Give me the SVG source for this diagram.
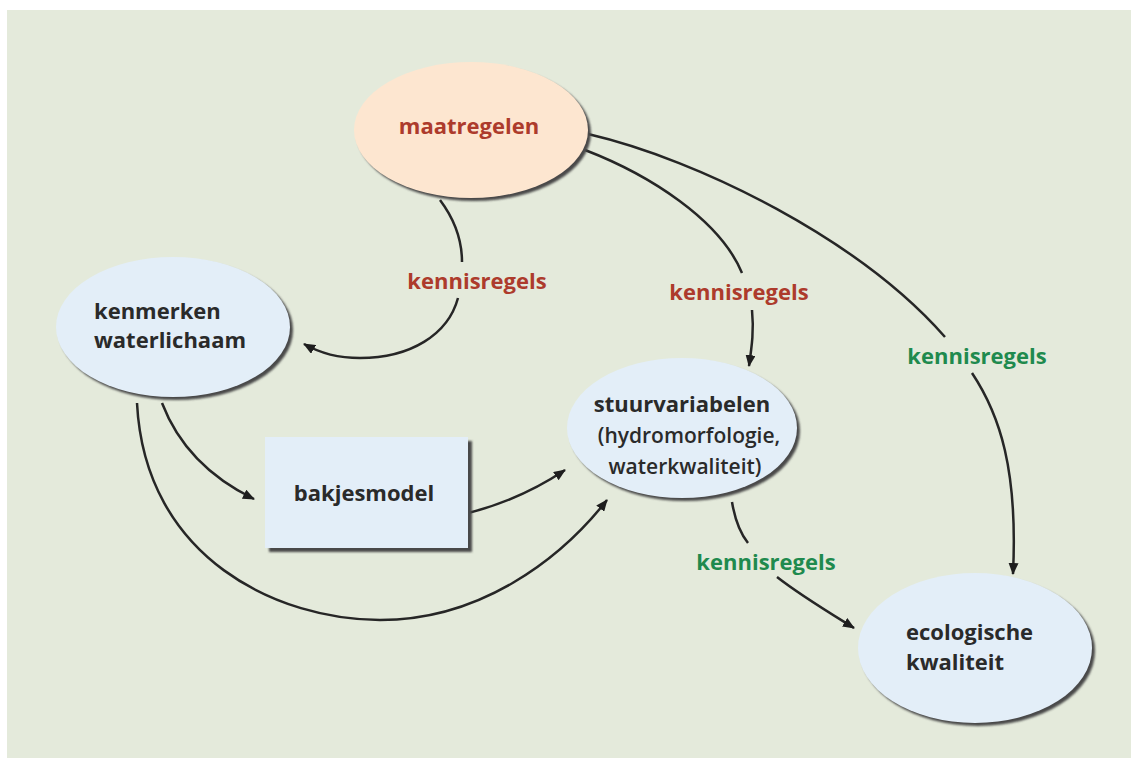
<svg xmlns="http://www.w3.org/2000/svg" width="1131" height="758" viewBox="0 0 1131 758">
<defs>
<marker id="ah" viewBox="0 0 12 10" refX="11" refY="5" markerWidth="12" markerHeight="10" markerUnits="userSpaceOnUse" orient="auto">
<path d="M0,0 L12,5 L0,10 Z" fill="#1e1e1e"/>
</marker>
<filter id="blur" x="-10%" y="-10%" width="120%" height="120%"><feGaussianBlur stdDeviation="0.8"/></filter>
</defs>
<style>
.bg{fill:#e4eadb}
.shadow{fill:#4a4a4a;filter:url(#blur)}
.blue{fill:#e3eef8}
.peach{fill:#fde6d0}
.t{font-family:"Open Sans",Lato,sans-serif;font-weight:bold;font-size:22px}
.dark{fill:#2a2a2a}
.red{fill:#ad3b2c}
.green{fill:#1f8a4e}
.sub{font-weight:600;font-size:21px}
.c{fill:none;stroke:#262626;stroke-width:2.5}
</style>
<rect class="bg" x="7" y="10" width="1124" height="748"/>

<g id="connectors">
<path class="c" d="M440,200 C455,220 462,240 462,262"/>
<path class="c" d="M458,298 C448,335 410,358 360,358 C335,358 318,352 304,344" marker-end="url(#ah)"/>
<path class="c" d="M585,150 C650,175 720,220 742,273"/>
<path class="c" d="M752,310 C754,330 752,345 749,366" marker-end="url(#ah)"/>
<path class="c" d="M588,134 C700,160 860,240 945,337"/>
<path class="c" d="M972,373 C1000,415 1018,470 1013,574" marker-end="url(#ah)"/>
<path class="c" d="M162,403 C180,450 215,480 254,499" marker-end="url(#ah)"/>
<path class="c" d="M137,403 C145,560 280,620 380,620 C480,620 560,560 607,500" marker-end="url(#ah)"/>
<path class="c" d="M468,513 C500,505 535,490 565,470" marker-end="url(#ah)"/>
<path class="c" d="M732,502 C735,520 740,533 748,543"/>
<path class="c" d="M777,577 C800,595 825,610 854,628" marker-end="url(#ah)"/>
</g>

<g id="maatregelen">
<ellipse class="shadow" cx="474" cy="133" rx="117" ry="68"/>
<ellipse class="peach" cx="471" cy="130" rx="117" ry="68"/>
<text class="t red" x="469" y="134" text-anchor="middle">maatregelen</text>
</g>

<g id="kenmerken">
<ellipse class="shadow" cx="176" cy="330" rx="117" ry="70"/>
<ellipse class="blue" cx="173" cy="327" rx="117" ry="70"/>
<text class="t dark" x="94" y="319">kenmerken</text>
<text class="t dark" x="94" y="348">waterlichaam</text>
</g>

<g id="bakjesmodel">
<rect class="shadow" x="269" y="441" width="203" height="111"/>
<rect class="blue" x="265" y="437" width="203" height="111"/>
<text class="t dark" x="364" y="501" text-anchor="middle">bakjesmodel</text>
</g>

<g id="stuurvariabelen">
<ellipse class="shadow" cx="685" cy="431" rx="115" ry="70"/>
<ellipse class="blue" cx="682" cy="428" rx="115" ry="70"/>
<text class="t dark" x="682" y="412" text-anchor="middle">stuurvariabelen</text>
<text class="t dark sub" x="689" y="443" text-anchor="middle">(hydromorfologie,</text>
<text class="t dark sub" x="685" y="474" text-anchor="middle">waterkwaliteit)</text>
</g>

<g id="ecologische">
<ellipse class="shadow" cx="978" cy="651" rx="117" ry="75"/>
<ellipse class="blue" cx="975" cy="648" rx="117" ry="75"/>
<text class="t dark" x="906" y="640">ecologische</text>
<text class="t dark" x="906" y="670">kwaliteit</text>
</g>

<g id="labels">
<text class="t red" x="477" y="289" text-anchor="middle">kennisregels</text>
<text class="t red" x="739" y="300" text-anchor="middle">kennisregels</text>
<text class="t green" x="977" y="364" text-anchor="middle">kennisregels</text>
<text class="t green" x="766" y="570" text-anchor="middle">kennisregels</text>
</g>
</svg>
